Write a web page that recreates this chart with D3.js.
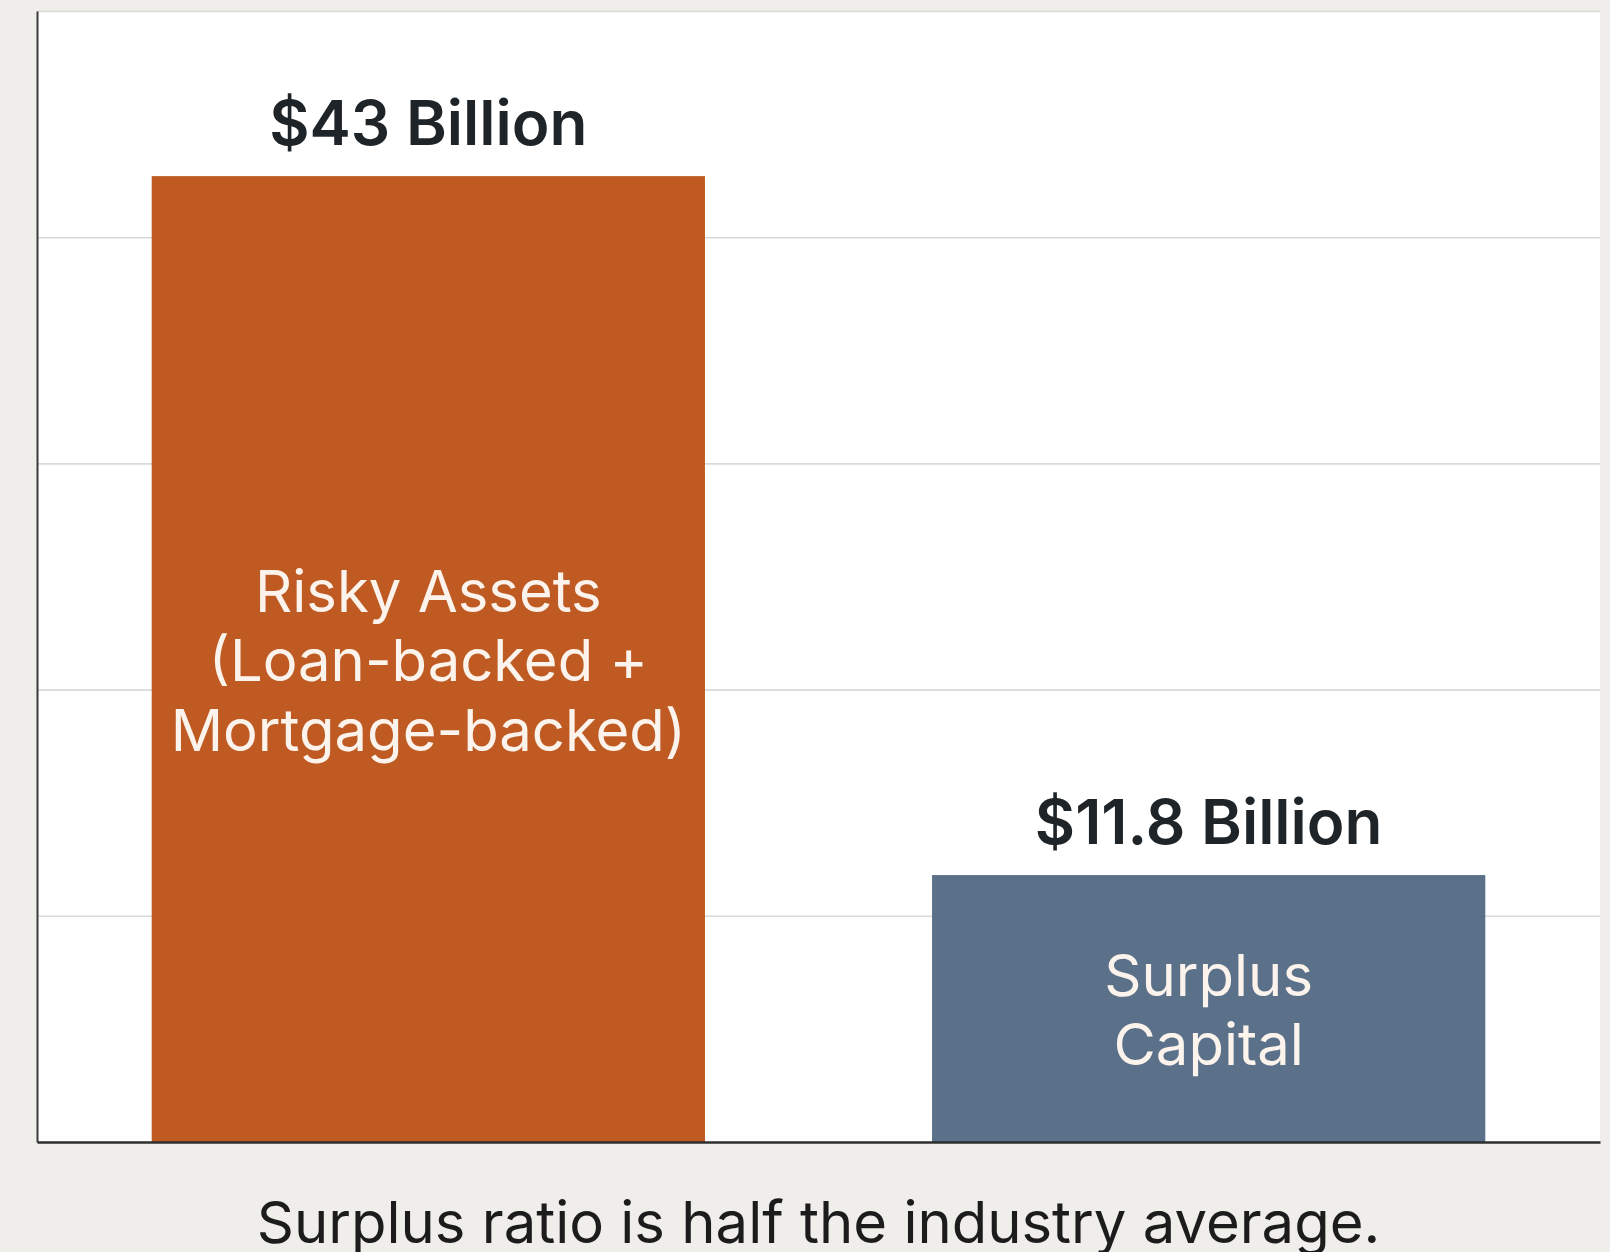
<!DOCTYPE html>
<html>
<head>
<meta charset="utf-8">
<script src="https://cdn.jsdelivr.net/npm/d3@7"></script>
<style>
  html, body { margin: 0; padding: 0; background: #f0eeea; }
  svg { display: block; }
  text { font-family: Inter, "Noto Sans", sans-serif; }
</style>
</head>
<body>
<svg id="chart" width="1610" height="1252"></svg>
<script>
// ---- data ----
const categories = ["Risky Assets", "Surplus Capital"];
const values = [42.7, 11.8];
const valueLabels = ["$43 Billion", "$11.8 Billion"];
const innerLabels = [
  ["Risky Assets", "(Loan-backed +", "Mortgage-backed)"],
  ["Surplus", "Capital"]
];
const barColors = ["#bf5a22", "#5a7189"];
const yTicks = [0, 10, 20, 30, 40, 50];
const caption = "Surplus ratio is half the industry average.";

// ---- layout ----
const W = 1610, H = 1252;
const plot = { left: 37, right: 1600, top: 11, bottom: 1142 };

const svg = d3.select("#chart");

const x = d3.scaleBand()
  .domain(categories)
  .range([plot.left, plot.right])
  .paddingInner(0.291)
  .paddingOuter(0.147);

const y = d3.scaleLinear()
  .domain([0, 50])
  .range([plot.bottom, plot.top]);

// plot background
svg.append("rect")
  .attr("x", plot.left).attr("y", plot.top)
  .attr("width", plot.right - plot.left)
  .attr("height", plot.bottom - plot.top)
  .attr("fill", "#ffffff");

// gridlines
const grid = svg.append("g")
  .attr("transform", `translate(${plot.left},0)`)
  .call(d3.axisLeft(y).tickValues(yTicks.filter(d => d > 0))
    .tickSize(-(plot.right - plot.left)).tickFormat(""));
grid.select(".domain").remove();
grid.selectAll(".tick line").attr("stroke", "#d9d9d9").attr("stroke-width", 1.6);

// bars
svg.selectAll("rect.bar")
  .data(categories)
  .join("rect")
  .attr("class", "bar")
  .attr("x", d => x(d))
  .attr("y", (d, i) => y(values[i]))
  .attr("width", x.bandwidth())
  .attr("height", (d, i) => y(0) - y(values[i]))
  .attr("fill", (d, i) => barColors[i]);

// axes lines
const yAxis = svg.append("g")
  .attr("transform", `translate(${plot.left},0)`)
  .call(d3.axisLeft(y).tickValues([]).tickSizeOuter(0));
yAxis.select(".domain").attr("stroke", "#3a3a3a").attr("stroke-width", 2);

const xAxis = svg.append("g")
  .attr("transform", `translate(0,${plot.bottom})`)
  .call(d3.axisBottom(x).tickValues([]).tickSizeOuter(0));
xAxis.select(".domain").attr("stroke", "#2e2e2e").attr("stroke-width", 2.5);

// value labels
svg.selectAll("text.val")
  .data(categories)
  .join("text")
  .attr("class", "val")
  .attr("x", d => x(d) + x.bandwidth() / 2)
  .attr("y", (d, i) => y(values[i]) - 31)
  .attr("text-anchor", "middle")
  .attr("font-size", 62)
  .attr("font-weight", 600)
  .attr("fill", "#1f2428")
  .text((d, i) => valueLabels[i]);

// inner labels
const lineH = 69.5;
categories.forEach((c, i) => {
  const lines = innerLabels[i];
  const cx = x(c) + x.bandwidth() / 2;
  const cy = (y(values[i]) + y(0)) / 2;
  const t = svg.append("text")
    .attr("text-anchor", "middle")
    .attr("font-size", 58)
    .attr("font-weight", 400)
    .attr("fill", "#fbf3ec");
  lines.forEach((ln, j) => {
    t.append("tspan")
      .attr("x", cx)
      .attr("y", cy + (j - (lines.length - 1) / 2) * lineH + 22)
      .text(ln);
  });
});

// caption
svg.append("text")
  .attr("x", (plot.left + plot.right) / 2)
  .attr("y", 1243)
  .attr("text-anchor", "middle")
  .attr("font-size", 58)
  .attr("fill", "#1c1c1c")
  .text(caption);
</script>
</body>
</html>
